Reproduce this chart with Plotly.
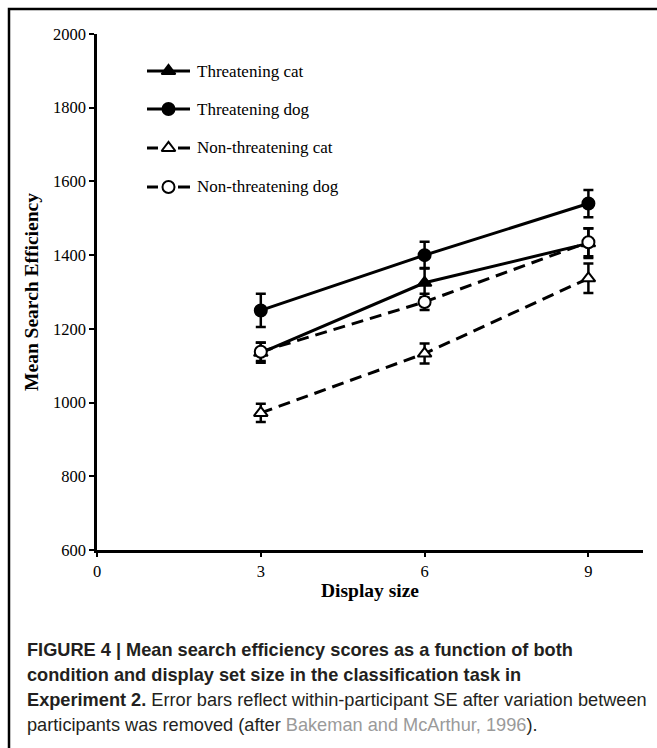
import plotly.graph_objects as go

display_size = [3, 6, 9]
series_names = ["Threatening cat", "Threatening dog", "Non-threatening cat", "Non-threatening dog"]
thr_cat = [1135, 1325, 1432]
thr_cat_se = [27, 40, 40]
thr_dog = [1250, 1400, 1540]
thr_dog_se = [45, 36, 37]
non_cat = [972, 1133, 1337]
non_cat_se = [25, 27, 40]
non_dog = [1138, 1273, 1435]
non_dog_se = [25, 22, 38]

x_ticks = [0, 3, 6, 9]
y_ticks = [600, 800, 1000, 1200, 1400, 1600, 1800, 2000]

styles = [
    dict(symbol="triangle-up", fill="black", dash="solid"),
    dict(symbol="circle", fill="black", dash="solid"),
    dict(symbol="triangle-up", fill="white", dash="12px,7px"),
    dict(symbol="circle", fill="white", dash="12px,7px"),
]
values = [thr_cat, thr_dog, non_cat, non_dog]
errors = [thr_cat_se, thr_dog_se, non_cat_se, non_dog_se]

L, R, T, B = 97, 14, 34, 198
W, H = 657, 748
pw, ph = W - L - R, H - T - B


def px(xp):
    return (xp - L) / pw


def py(yp):
    return (H - B - yp) / ph


serif = "Liberation Serif"
sans = "Liberation Sans, Arial, sans-serif"

fig = go.Figure()
for i, (name, vals, se, st) in enumerate(zip(series_names, values, errors, styles)):
    fig.add_trace(go.Scatter(
        x=display_size, y=vals, name=name, mode="lines+markers", showlegend=False,
        line=dict(color="black", width=3, dash=st["dash"]),
        marker=dict(symbol=st["symbol"], size=12, color=st["fill"],
                    line=dict(color="black", width=2)),
        error_y=dict(type="data", array=se, visible=True, color="black",
                     thickness=2.5, width=5),
    ))

# manual legend (line sample + marker + label)
legend_rows = [71, 109, 148, 187]
shapes = [dict(type="rect", xref="paper", yref="paper",
               x0=px(9), x1=px(700), y0=py(800), y1=py(9),
               line=dict(color="black", width=2.5), fillcolor="rgba(0,0,0,0)")]
for name, st, ry in zip(series_names, styles, legend_rows):
    if st["dash"] == "solid":
        segs = [(147, 190)]
    else:
        segs = [(147, 158), (178, 190)]
    for a, b in segs:
        shapes.append(dict(type="line", xref="paper", yref="paper",
                           x0=px(a), x1=px(b), y0=py(ry), y1=py(ry),
                           line=dict(color="black", width=3)))
    fig.add_trace(go.Scatter(
        x=[px(168.5)], y=[py(ry)], xaxis="x2", yaxis="y2", mode="markers",
        showlegend=False, hoverinfo="skip", cliponaxis=False,
        marker=dict(symbol=st["symbol"], size=12, color=st["fill"],
                    line=dict(color="black", width=2)),
    ))
    fig.add_annotation(text=name, xref="paper", yref="paper", x=px(195), y=py(ry),
                       xanchor="left", yanchor="middle", showarrow=False,
                       font=dict(family=serif, size=17, color="black"))

fig.update_layout(
    width=W, height=H,
    margin=dict(l=L, r=R, t=T, b=B),
    paper_bgcolor="white", plot_bgcolor="white",
    showlegend=False,
    xaxis=dict(range=[0, 10], tickvals=x_ticks, showline=True, linecolor="black",
               linewidth=2.5, ticks="outside", ticklen=4, tickwidth=2, tickcolor="black",
               showgrid=False, zeroline=False,
               tickfont=dict(family=serif, size=16.5, color="black"),
               title=dict(text="<b>Display size</b>", standoff=4,
                          font=dict(family=serif, size=19.5, color="black"))),
    yaxis=dict(range=[600, 2000], tickvals=y_ticks, showline=True, linecolor="black",
               linewidth=2.5, ticks="outside", ticklen=5, tickwidth=2, tickcolor="black",
               showgrid=False, zeroline=False,
               tickfont=dict(family=serif, size=16.5, color="black"),
               title=dict(text="<b>Mean Search Efficiency</b>", standoff=10,
                          font=dict(family=serif, size=19.5, color="black"))),
    xaxis2=dict(range=[0, 1], overlaying="x", visible=False, fixedrange=True),
    yaxis2=dict(range=[0, 1], overlaying="y", visible=False, fixedrange=True),
    shapes=shapes,
)

caption_lines = [
    "<b>FIGURE 4 | Mean search efficiency scores as a function of both</b>",
    "<b>condition and display set size in the classification task in</b>",
    "<b>Experiment 2.</b> Error bars reflect within-participant SE after variation between",
    "participants was removed (after <span style='color:#9a9a9a'>Bakeman and McArthur, 1996</span>).",
]
caption_y = [650, 675, 700, 725]
for txt, yy in zip(caption_lines, caption_y):
    fig.add_annotation(text=txt, xref="paper", yref="paper", x=px(25), y=py(yy),
                       xanchor="left", yanchor="middle", showarrow=False,
                       font=dict(family=sans, size=18.2, color="#231f20"))

fig.write_html("out.html")
